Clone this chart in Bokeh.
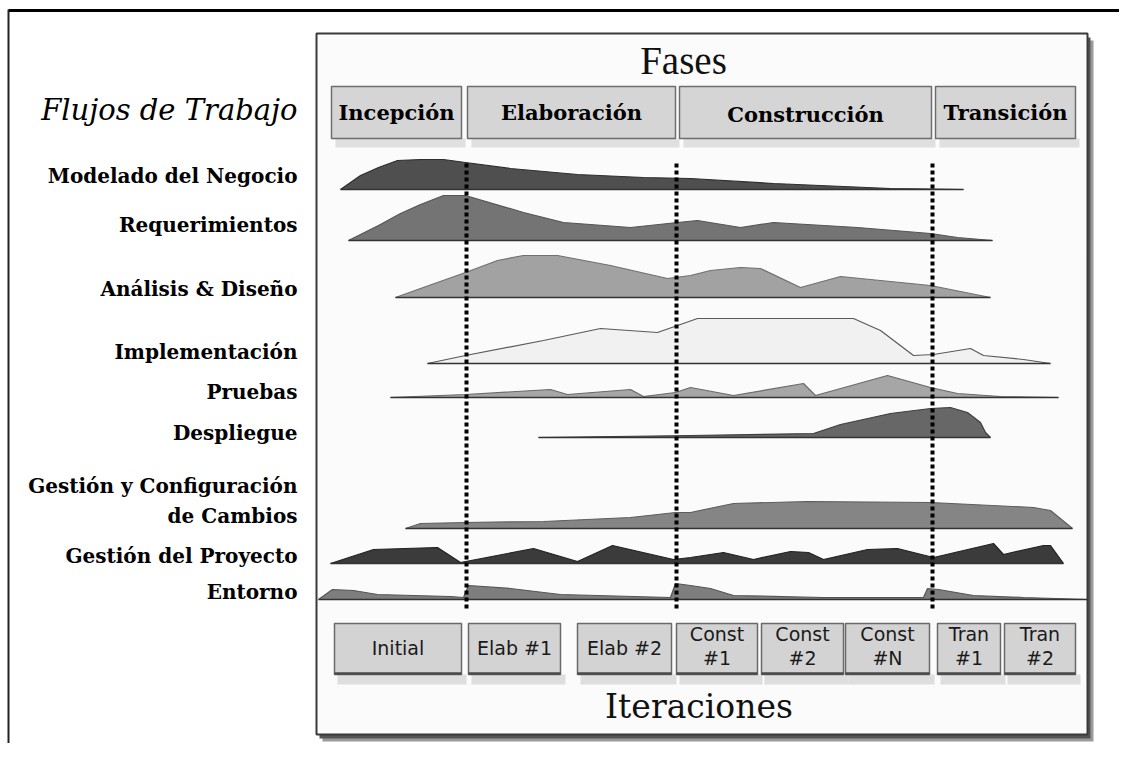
from bokeh.plotting import figure
from bokeh.models import Range1d
from bokeh.embed import file_html
from bokeh.resources import INLINE
from bokeh.core.properties import value

# ---------------- data ----------------
# timeline position (t) and effort height (h) of every workflow hump
modelado_t = [22, 42, 60, 79, 102, 125, 147, 192, 259, 325, 372, 455, 572, 612, 645]
modelado_h = [0, 14, 22, 29, 30, 30, 27, 21, 15, 12, 11, 6, 1, 0.5, 0]

requerimientos_t = [30, 60, 82, 102, 125, 147, 205, 245, 312, 359, 379, 422, 455, 539, 612, 639, 674]
requerimientos_h = [0, 15, 27, 36, 45, 45, 28, 18, 13, 18, 20, 13, 18, 13, 7, 3, 0]

analisis_t = [77, 102, 147, 179, 205, 239, 292, 349, 372, 392, 422, 442, 482, 522, 612, 672]
analisis_h = [0, 9, 25, 37, 42, 42, 32, 19, 22, 27, 30, 29, 10, 21, 12, 0]

implementacion_t = [109, 147, 225, 282, 339, 359, 379, 535, 562, 595, 615, 652, 665, 705, 732]
implementacion_h = [0, 8, 23, 35, 31, 38, 45, 45, 33, 8, 9, 15, 8, 4, 0]

pruebas_t = [72, 147, 232, 249, 312, 325, 357, 372, 415, 485, 497, 569, 612, 639, 682, 740]
pruebas_h = [0, 3, 8, 3, 8, 1, 5, 10, 2, 14, 2, 22, 10, 4, 1, 0]

despliegue_t = [220, 372, 495, 522, 572, 612, 632, 649, 662, 667, 672]
despliegue_h = [0, 2, 4, 13, 24, 29, 30, 25, 15, 5, 0]

gestion_config_t = [87, 102, 147, 225, 312, 357, 372, 415, 489, 612, 715, 732, 754]
gestion_config_h = [0, 5, 6, 7, 11, 16, 16, 25, 27, 26, 21, 18, 0]

gestion_proyecto_t = [12, 55, 119, 142, 215, 259, 294, 355, 372, 405, 435, 472, 490, 505,
                      549, 579, 615, 675, 685, 725, 732, 745]
gestion_proyecto_h = [0, 14, 16, 1, 15, 2, 18, 4, 6, 11, 4, 12, 11, 4,
                      14, 15, 6, 20, 9, 18, 18, 0]

entorno_t = [0, 14, 35, 59, 132, 145, 150, 192, 242, 352, 357, 372, 392, 415, 505, 605,
             609, 620, 655, 705, 769]
entorno_h = [0, 10, 9, 5, 3, 2, 14, 11, 5, 2, 16, 14, 11, 4, 2, 2,
             11, 10, 4, 2, 0]

workflow_labels = ["Modelado del Negocio", "Requerimientos", "Análisis & Diseño",
                   "Implementación", "Pruebas", "Despliegue",
                   ["Gestión y Configuración", "de Cambios"],
                   "Gestión del Proyecto", "Entorno"]

phases = ["Incepción", "Elaboración", "Construcción", "Transición"]
phase_start = [13, 149, 361, 617]
phase_end = [143, 357, 613, 757]

iterations = [["Initial"], ["Elab #1"], ["Elab #2"], ["Const", "#1"], ["Const", "#2"],
              ["Const", "#N"], ["Tran", "#1"], ["Tran", "#2"]]
iter_start = [16, 150, 259, 358, 443, 527, 619, 686]
iter_end = [143, 242, 353, 439, 525, 611, 682, 757]

milestones = [148, 358, 614]

title_top = "Fases"
title_bottom = "Iteraciones"
title_left = "Flujos de Trabajo"

# ---------------- layout / style ----------------
profiles = [(modelado_t, modelado_h), (requerimientos_t, requerimientos_h),
            (analisis_t, analisis_h), (implementacion_t, implementacion_h),
            (pruebas_t, pruebas_h), (despliegue_t, despliegue_h),
            (gestion_config_t, gestion_config_h), (gestion_proyecto_t, gestion_proyecto_h),
            (entorno_t, entorno_h)]
row_base = [189, 240, 297, 363, 397, 437, 528, 563, 599]
label_mid = [175, 224, 288, 351, 391, 432, [485, 515], 555, 591]
fills = ["#4f4f4f", "#747474", "#a2a2a2", "#f1f1f1", "#a6a6a6", "#676767",
         "#858585", "#3b3b3b", "#7e7e7e"]
edges = ["#2e2e2e", "#555555", "#707070", "#5a5a5a", "#6a6a6a", "#3e3e3e",
         "#5e5e5e", "#222222", "#555555"]

SERIF = value("DejaVu Serif")
SANS = value("DejaVu Sans")

p = figure(width=1119, height=743, output_backend="svg", toolbar_location=None,
           x_range=Range1d(-318, 801), y_range=Range1d(743, 0),
           min_border=0, background_fill_color="white", border_fill_color="white")
p.axis.visible = False
p.grid.visible = False
p.outline_line_color = None

# outer frame (top and left)
p.line(x=[-310, 801], y=[10, 10], line_color="black", line_width=3)
p.line(x=[-310, -310], y=[9, 743], line_color="#222222", line_width=2)

# panel with shadow
p.quad(left=[4], right=[775], top=[40], bottom=[741], fill_color="#9a9a9a", line_color=None)
p.quad(left=[1], right=[772], top=[37], bottom=[738], fill_color="#555555", line_color=None)
p.quad(left=[-2], right=[769], top=[33], bottom=[734], fill_color="#fbfbfb",
       line_color="#3a3a3a", line_width=2)

# titles
p.text(x=[(phase_start[0] + phase_end[-1]) / 2 - 20], y=[60], text=[title_top],
       text_font=value("Liberation Serif"), text_font_size="39px", text_align="center",
       text_baseline="middle", text_color="#111111")
p.text(x=[(iter_start[0] + iter_end[-1]) / 2 - 6], y=[706], text=[title_bottom],
       text_font=SERIF, text_font_size="33px", text_align="center",
       text_baseline="middle", text_color="#111111")
p.text(x=[-21], y=[109], text=[title_left], text_font=SERIF, text_font_style="italic",
       text_font_size="29px", text_align="right", text_baseline="middle",
       text_color="black")

# phase boxes
p.quad(left=[s + 4 for s in phase_start], right=[e + 4 for e in phase_end],
       top=[138] * 4, bottom=[147] * 4, fill_color="#cfcfcf", fill_alpha=0.6, line_color=None)
p.quad(left=phase_start, right=phase_end, top=[86] * 4, bottom=[138] * 4,
       fill_color="#d5d5d5", line_color="#6e6e6e", line_width=1.5)
p.text(x=[(s + e) / 2 for s, e in zip(phase_start, phase_end)], y=[112, 112, 114, 112],
       text=phases, text_font=SERIF, text_font_style="bold", text_font_size="21px",
       text_align="center", text_baseline="middle", text_color="black")

# humps
for (tt, hh), base, fc, ec in zip(profiles, row_base, fills, edges):
    top = [base - h for h in hh]
    p.varea(x=tt, y1=[base] * len(tt), y2=top, fill_color=fc)
    p.line(x=tt, y=top, line_color=ec, line_width=1.2)
    p.line(x=[tt[0], tt[-1]], y=[base, base], line_color="#333333", line_width=1.5)

# milestone dotted lines
p.segment(x0=milestones, x1=milestones, y0=[163] * 3, y1=[609] * 3,
          line_color="black", line_width=4, line_dash="4 3")

# workflow labels
lx, ly, lt = [], [], []
for lab, yb in zip(workflow_labels, label_mid):
    if isinstance(lab, list):
        for l, y in zip(lab, yb):
            lx.append(-21); ly.append(y); lt.append(l)
    else:
        lx.append(-21); ly.append(yb); lt.append(lab)
p.text(x=lx, y=ly, text=lt, text_font=SERIF, text_font_style="bold", text_font_size="20px",
       text_align="right", text_baseline="middle", text_color="black")

# iteration boxes
n = len(iterations)
p.quad(left=[s + 3 for s in iter_start], right=[e + 5 for e in iter_end],
       top=[674] * n, bottom=[684] * n, fill_color="#cccccc", fill_alpha=0.6, line_color=None)
p.quad(left=iter_start, right=iter_end, top=[623] * n, bottom=[674] * n,
       fill_color="#d3d3d3", line_color="#6a6a6a", line_width=1.5)
p.segment(x0=iter_start, x1=iter_end, y0=[673] * n, y1=[673] * n,
          line_color="#4a4a4a", line_width=2.5)
ix, iy, it = [], [], []
for lab, s, e in zip(iterations, iter_start, iter_end):
    c = (s + e) / 2
    ys = [647] if len(lab) == 1 else [633, 657]
    for l, y in zip(lab, ys):
        ix.append(c); iy.append(y); it.append(l)
p.text(x=ix, y=iy, text=it, text_font=SANS, text_font_size="19px", text_align="center",
       text_baseline="middle", text_color="#1a1a1a")

open("out.html", "w").write(file_html(p, INLINE))
